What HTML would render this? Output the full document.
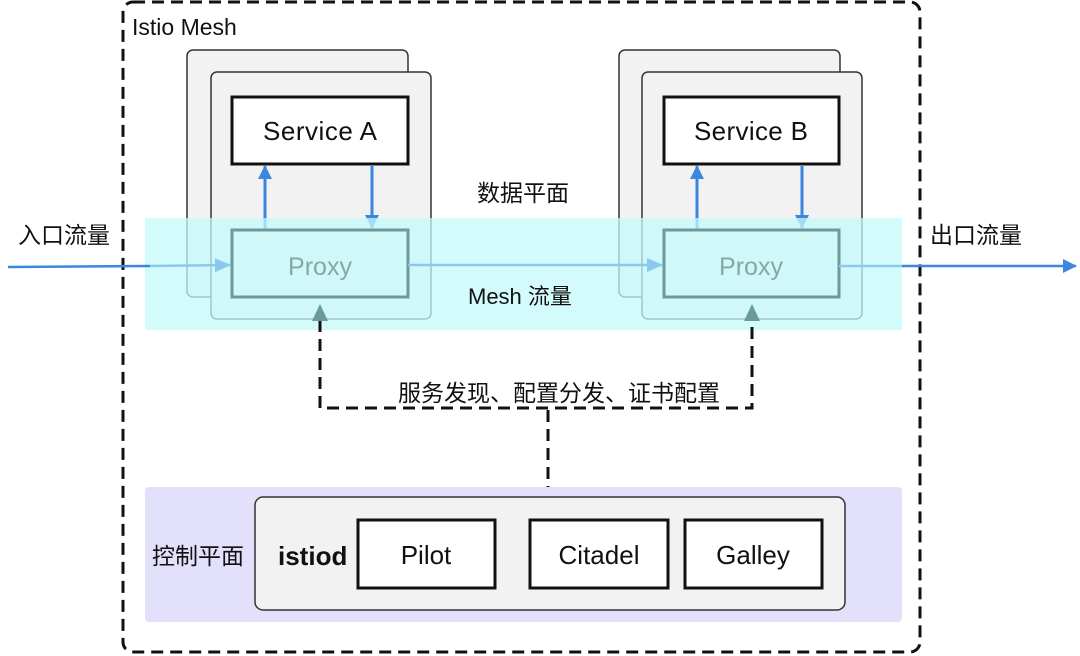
<!DOCTYPE html>
<html><head><meta charset="utf-8"><style>
html,body{margin:0;padding:0;background:#fff;width:1080px;height:656px;overflow:hidden}
text{font-family:"Liberation Sans","Noto Sans CJK SC",sans-serif}
</style></head><body>
<svg width="1080" height="656" viewBox="0 0 1080 656" xmlns="http://www.w3.org/2000/svg">
<defs>
<marker id="ab" markerWidth="14" markerHeight="14" refX="13" refY="7" orient="auto" markerUnits="userSpaceOnUse"><path d="M0,0 L14,7 L0,14 z" fill="#3d86e0"/></marker>
<marker id="al" markerWidth="16" markerHeight="14" refX="15" refY="7" orient="auto" markerUnits="userSpaceOnUse"><path d="M0,0 L16,7 L0,14 z" fill="#8cc8ee"/></marker>
</defs>
<rect x="123" y="2" width="797" height="650" rx="10" fill="none" stroke="#111" stroke-width="3" stroke-dasharray="12,7"/>
<text x="132" y="35" font-size="23" fill="#111">Istio Mesh</text>
<rect x="187" y="50" width="221" height="247" rx="6" fill="#f2f2f2" stroke="#333" stroke-width="1.5"/>
<rect x="211" y="72" width="220" height="247" rx="6" fill="#f2f2f2" stroke="#333" stroke-width="1.5"/>
<rect x="232" y="97" width="176" height="67" fill="#fff" stroke="#111" stroke-width="3"/>
<text x="320" y="140" font-size="26" text-anchor="middle" fill="#111" textLength="114">Service A</text>
<rect x="619" y="50" width="221" height="247" rx="6" fill="#f2f2f2" stroke="#333" stroke-width="1.5"/>
<rect x="642" y="72" width="220" height="247" rx="6" fill="#f2f2f2" stroke="#333" stroke-width="1.5"/>
<rect x="664" y="97" width="175" height="67" fill="#fff" stroke="#111" stroke-width="3"/>
<text x="751" y="140" font-size="26" text-anchor="middle" fill="#111" textLength="114">Service B</text>
<line x1="265" y1="230" x2="265" y2="166" stroke="#3d86e0" stroke-width="3" marker-end="url(#ab)"/>
<line x1="372" y1="166" x2="372" y2="228" stroke="#3d86e0" stroke-width="3" marker-end="url(#ab)"/>
<line x1="697" y1="230" x2="697" y2="166" stroke="#3d86e0" stroke-width="3" marker-end="url(#ab)"/>
<line x1="802" y1="166" x2="802" y2="228" stroke="#3d86e0" stroke-width="3" marker-end="url(#ab)"/>
<rect x="145" y="218" width="757" height="112" fill="#c6fafa" opacity="0.75"/>
<rect x="232" y="230" width="176" height="67" fill="none" stroke="#6a9a9a" stroke-width="3"/>
<text x="320" y="275" font-size="25" text-anchor="middle" fill="#8aa5a5">Proxy</text>
<rect x="664" y="230" width="175" height="67" fill="none" stroke="#6a9a9a" stroke-width="3"/>
<text x="751" y="275" font-size="25" text-anchor="middle" fill="#8aa5a5">Proxy</text>
<line x1="8" y1="267" x2="150" y2="266" stroke="#3d86e0" stroke-width="2.5"/>
<line x1="150" y1="266" x2="230" y2="265" stroke="#8cc8ee" stroke-width="2.5" marker-end="url(#al)"/>
<line x1="408" y1="265" x2="662" y2="265" stroke="#8cc8ee" stroke-width="2.5" marker-end="url(#al)"/>
<line x1="839" y1="266" x2="902" y2="266" stroke="#8cc8ee" stroke-width="2.5"/>
<line x1="902" y1="266" x2="1076" y2="266" stroke="#3d86e0" stroke-width="2.5" marker-end="url(#ab)"/>
<text x="18" y="243" font-size="23" fill="#111">入口流量</text>
<text x="930" y="243" font-size="23" fill="#111">出口流量</text>
<text x="477" y="201" font-size="23" fill="#111">数据平面</text>
<text x="468" y="304" font-size="22" fill="#111">Mesh 流量</text>
<polyline points="320,320 320,408 752,408 752,320" fill="none" stroke="#111" stroke-width="3" stroke-dasharray="12,7"/>
<path d="M312,321 L320,304 L328,321 z" fill="#6a9a9a"/>
<path d="M744,321 L752,304 L760,321 z" fill="#6a9a9a"/>
<rect x="392" y="378" width="340" height="28" fill="#fff"/>
<text x="398" y="401" font-size="23" fill="#111">服务发现、配置分发、证书配置</text>
<line x1="548" y1="410" x2="548" y2="497" stroke="#111" stroke-width="3" stroke-dasharray="12,7"/>
<rect x="145" y="487" width="757" height="135" rx="4" fill="#e2e0fb"/>
<rect x="255" y="497" width="590" height="113" rx="8" fill="#f2f2f2" stroke="#333" stroke-width="1.5"/>
<text x="152" y="564" font-size="23" fill="#111">控制平面</text>
<text x="278" y="565" font-size="26" font-weight="bold" fill="#111">istiod</text>
<rect x="358" y="520" width="137" height="68" fill="#fff" stroke="#111" stroke-width="3"/>
<text x="426" y="564" font-size="26" text-anchor="middle" fill="#111">Pilot</text>
<rect x="530" y="520" width="138" height="68" fill="#fff" stroke="#111" stroke-width="3"/>
<text x="599" y="564" font-size="26" text-anchor="middle" fill="#111">Citadel</text>
<rect x="685" y="520" width="137" height="68" fill="#fff" stroke="#111" stroke-width="3"/>
<text x="753" y="564" font-size="26" text-anchor="middle" fill="#111">Galley</text>
</svg>
</body></html>
